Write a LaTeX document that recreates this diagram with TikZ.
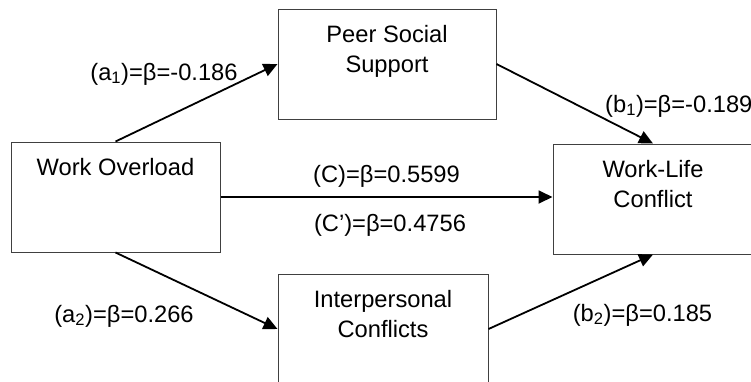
\documentclass[tikz,border=0pt]{standalone}
\usepackage{fontspec}
\setmainfont{Liberation Sans}
\usetikzlibrary{arrows.meta,positioning,calc}

\begin{document}
\begin{tikzpicture}[x=1pt,y=-1pt,font=\fontsize{23.7}{30}\selectfont]
  \tikzstyle{var}=[draw=black!75,line width=1pt,align=center,inner sep=0pt,text height=33pt,text depth=77pt]
  \tikzstyle{twoline}=[text height=63pt,text depth=47pt]
  \tikzstyle{link}=[-{Triangle[length=14pt,width=13pt]},line width=1.8pt]
  \tikzstyle{coef}=[anchor=base,inner sep=0pt]
  \useasboundingbox (0,0) rectangle (751,381);
  \clip (0,0) rectangle (751,381);
  % variables
  \node[var,minimum width=209pt] (wo) at (115.5,197) {Work Overload};
  \node[var,twoline,minimum width=218pt] (pss) at (387,64) {Peer Social\\Support};
  \node[var,twoline,minimum width=200pt] (wlc) at (653,199) {Work-Life\\Conflict};
  \node[var,twoline,minimum width=210pt] (ic) at (383,329) {Interpersonal\\Conflicts};
  % paths
  \draw[link] (wo.north) -- (pss.west);
  \draw[link] (pss.east) -- (wlc.north);
  \draw[link] (wo.east) -- (wo.east -| wlc.west);
  \draw[link] (wo.south) -- (ic.west);
  \draw[link] (ic.east) -- (wlc.south);
  % coefficients
  \node[coef] (la1) at (164,80) {(a\textsubscript{1})=β=-0.186};
  \node[coef,anchor=base west] (lb1) at (605,112) {(b\textsubscript{1})=β=-0.189};
  \node[coef] (lc) at (386.5,182) {(C)=β=0.5599};
  \node[coef] (lcp) at (390,231) {(C’)=β=0.4756};
  \node[coef] (la2) at (124,322) {(a\textsubscript{2})=β=0.266};
  \node[coef] (lb2) at (642.5,321) {(b\textsubscript{2})=β=0.185};
\end{tikzpicture}
\end{document}
